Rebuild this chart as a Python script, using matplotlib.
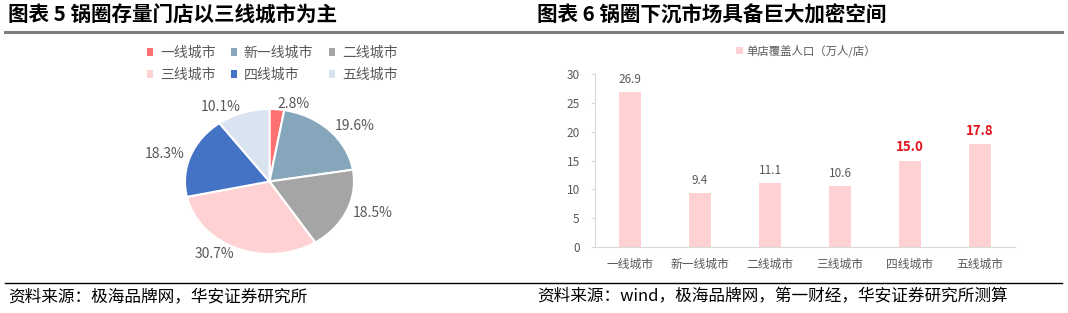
import numpy as np
import matplotlib
matplotlib.use('Agg')
import matplotlib.pyplot as plt
from matplotlib.patches import Patch
from matplotlib.lines import Line2D

plt.rcParams['font.family'] = ['Noto Sans CJK SC', 'DejaVu Sans']

# data
pie_cats = ['一线城市', '新一线城市', '二线城市', '三线城市', '四线城市', '五线城市']
pie_vals = [2.8, 19.6, 18.5, 30.7, 18.3, 10.1]
pie_cols = ['#FF7171', '#85A6BB', '#A5A5A5', '#FFD1D2', '#4472C4', '#DAE3F0']

bar_cats = ['一线城市', '新一线城市', '二线城市', '三线城市', '四线城市', '五线城市']
bar_vals = [26.9, 9.4, 11.1, 10.6, 15.0, 17.8]
bar_hl = [False, False, False, False, True, True]
bar_name = '单店覆盖人口（万人/店）'

W, H = 1068, 313
fig = plt.figure(figsize=(W / 100, H / 100), dpi=100)

def fx(px):
    return px / W

def fy(py):
    return 1 - py / H

grey = '#595959'

# titles + rules
fig.text(fx(8), fy(15), '图表 5 锅圈存量门店以三线城市为主', fontsize=14.8,
         fontweight='bold', va='center', ha='left', color='black')
fig.text(fx(537), fy(15), '图表 6 锅圈下沉市场具备巨大加密空间', fontsize=14.8,
         fontweight='bold', va='center', ha='left', color='black')
fig.add_artist(Line2D([fx(5), fx(1062)], [fy(32), fy(32)], color='#7F7F7F', lw=2.2))
fig.add_artist(Line2D([fx(5), fx(1062)], [fy(283), fy(283)], color='black', lw=1.0))
fig.text(fx(8), fy(297), '资料来源：极海品牌网，华安证券研究所', fontsize=12,
         va='center', ha='left', color='black')
fig.text(fx(537), fy(297), '资料来源：wind，极海品牌网，第一财经，华安证券研究所测算', fontsize=12,
         va='center', ha='left', color='black')

# pie
ax1 = fig.add_axes([fx(185), fy(254), fx(169), (254 - 109) / H])
wedges, texts = ax1.pie(pie_vals, colors=pie_cols, startangle=90, counterclock=False,
                        labels=[f'{v}%' for v in pie_vals], labeldistance=1.08,
                        wedgeprops=dict(edgecolor='white', linewidth=1.5),
                        textprops=dict(fontsize=10, color=grey))
ax1.set_aspect('auto')
ax1.set_xlim(-1, 1)
ax1.set_ylim(-1, 1)
for t in texts:
    t.set_clip_on(False)

# legend laid out row by row (matplotlib fills columns first)
order = [0, 3, 1, 4, 2, 5]
handles = [Patch(facecolor=pie_cols[i], edgecolor='none') for i in order]
fig.legend(handles, [pie_cats[i] for i in order], ncol=3, loc='center',
           bbox_to_anchor=(fx(272), fy(64)),
           frameon=False, fontsize=10, handlelength=0.45, handleheight=0.45,
           handletextpad=0.5, columnspacing=1.1, labelspacing=0.6, labelcolor=grey)

# bars
ax2 = fig.add_axes([fx(595), fy(247), fx(420), (247 - 74) / H])
x = np.arange(len(bar_cats))
bars = ax2.bar(x, bar_vals, width=0.31, color='#FFD1D2', label=bar_name)
ax2.set_xlim(-0.5, len(bar_cats) - 0.5)
ax2.set_ylim(0, 30)
ax2.set_yticks(np.arange(0, 31, 5))
ax2.set_xticks(x)
ax2.set_xticklabels(bar_cats)
for s in ['top', 'right']:
    ax2.spines[s].set_visible(False)
for s in ['left', 'bottom']:
    ax2.spines[s].set_color('#D9D9D9')
ax2.tick_params(axis='y', length=3, color='#D9D9D9', labelsize=8.5, labelcolor=grey, pad=8)
ax2.tick_params(axis='x', length=0, labelsize=8.5, labelcolor=grey, pad=8)
for b, v, hl in zip(bars, bar_vals, bar_hl):
    ax2.annotate(f'{v:.1f}', (b.get_x() + b.get_width() / 2, v), xytext=(0, 4.5),
                 textcoords='offset points', ha='center', va='bottom',
                 fontsize=9.5 if hl else 8.5,
                 fontweight='bold' if hl else 'normal',
                 color='#E0121B' if hl else grey)
fig.legend(loc='center left', bbox_to_anchor=(fx(726), fy(51)), frameon=False,
           handles=[Patch(facecolor='#FFD1D2', edgecolor='none')], labels=[bar_name],
           fontsize=8.2, handlelength=0.55, handleheight=0.55, handletextpad=0.3,
           labelcolor=grey)

fig.savefig('out.png', dpi=100)
